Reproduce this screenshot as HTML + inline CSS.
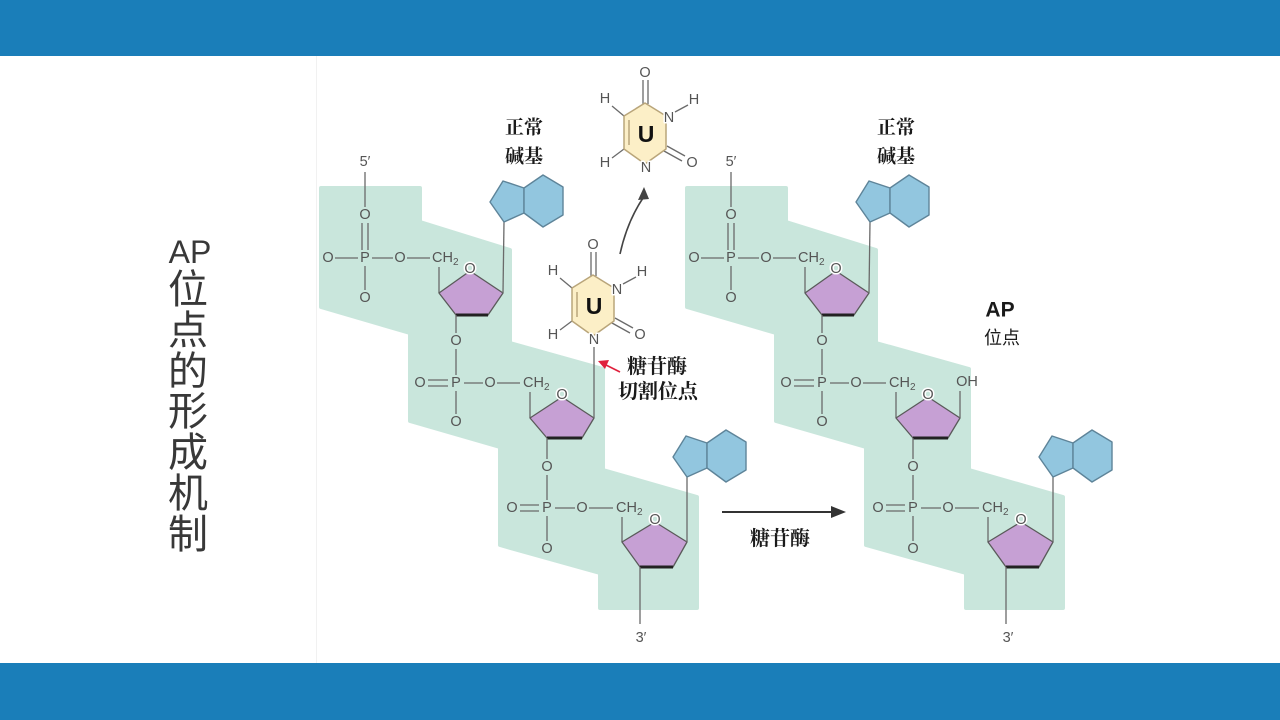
<!DOCTYPE html>
<html><head><meta charset="utf-8"><style>
html,body{margin:0;padding:0;background:#fff;}
svg{display:block;}
.band{fill:#c9e6dc;stroke:#c9e6dc;stroke-width:4;stroke-linejoin:round;}
.b{stroke:#6a6a6a;stroke-width:1.3;fill:none;}
.rb{stroke:#b9a57a;stroke-width:1.5;fill:none;}
.t{font-family:"Liberation Sans",sans-serif;font-size:14.5px;fill:#555;dominant-baseline:central;text-anchor:middle;}
.ts{font-family:"Liberation Sans",sans-serif;font-size:14.5px;fill:#555;dominant-baseline:central;}
.sub{font-size:10px;}
.halo{paint-order:stroke;stroke:#fff;stroke-width:3px;stroke-linejoin:round;}
.sug{fill:#c6a0d4;stroke:#5a5a5a;stroke-width:1.3;stroke-linejoin:round;}
.thick{stroke:#222;stroke-width:3;}
.base{fill:#92c6df;stroke:#5e8499;stroke-width:1.4;stroke-linejoin:round;}
.ring{fill:#fcefc7;stroke:#b9a57a;stroke-width:1.5;stroke-linejoin:round;}
.U{font-family:"Liberation Sans",sans-serif;font-weight:bold;font-size:23px;fill:#111;dominant-baseline:central;text-anchor:middle;}
.cn{font-family:"Liberation Serif","Noto Serif CJK SC",serif;font-weight:bold;font-size:19px;fill:#1a1a1a;dominant-baseline:central;text-anchor:middle;}
.cn2{font-family:"Liberation Serif","Noto Serif CJK SC",serif;font-weight:bold;font-size:20px;fill:#1a1a1a;dominant-baseline:central;text-anchor:middle;}
.title{font-family:"Liberation Sans","Noto Sans CJK SC",sans-serif;font-size:40px;fill:#383838;dominant-baseline:central;text-anchor:middle;}
</style></head><body>
<svg width="1280" height="720" viewBox="0 0 1280 720" xmlns="http://www.w3.org/2000/svg">
<rect x="0" y="0" width="1280" height="720" fill="#fff"/>
<rect x="0" y="0" width="1280" height="56" fill="#1a7eb9"/>
<rect x="0" y="663" width="1280" height="57" fill="#1a7eb9"/>
<line x1="316.5" y1="56" x2="316.5" y2="663" stroke="#f1f1f1" stroke-width="1"/>

<!-- Title -->
<text x="190" y="252" class="title" style="font-size:32px">AP</text>
<text x="188" y="290" class="title">位</text>
<text x="188" y="331" class="title">点</text>
<text x="188" y="372" class="title">的</text>
<text x="188" y="412" class="title">形</text>
<text x="188" y="453" class="title">成</text>
<text x="188" y="494" class="title">机</text>
<text x="188" y="535" class="title">制</text>

<!-- ========== LEFT DIAGRAM ========== -->
<polygon class="band" points="321,188 420,188 420,222 510,250 510,343 603,369 603,470 697,497 697,608 600,608 600,573 500,545 500,447 410,421 410,333 321,307"/>

<!-- phosphate 1 -->
<text x="365" y="162" class="t">5′</text>
<line class="b" x1="365" y1="172" x2="365" y2="207"/>
<text x="365" y="215" class="t">O</text>
<line class="b" x1="362" y1="223" x2="362" y2="250"/>
<line class="b" x1="368" y1="223" x2="368" y2="250"/>
<text x="365" y="258" class="t">P</text>
<text x="328" y="258" class="t">O</text>
<line class="b" x1="335" y1="258" x2="358" y2="258"/>
<line class="b" x1="372" y1="258" x2="393" y2="258"/>
<text x="400" y="258" class="t">O</text>
<line class="b" x1="407" y1="258" x2="430" y2="258"/>
<text x="432" y="258" class="ts">CH<tspan class="sub" dy="4">2</tspan></text>
<line class="b" x1="365" y1="266" x2="365" y2="290"/>
<text x="365" y="298" class="t">O</text>
<line class="b" x1="439" y1="267" x2="439" y2="293"/>

<!-- sugar 1 -->
<polygon class="sug" points="470,271 503,293 488,315 456,315 439,293"/>
<line class="thick" x1="456" y1="315" x2="488" y2="315"/>
<text x="470" y="269" class="t halo">O</text>
<line class="b" x1="503" y1="293" x2="504" y2="222"/>
<polygon class="base" points="504,222 490,202 503,181 524,188 524,213"/>
<polygon class="base" points="524,188 543,175 563,187 563,215 543,227 524,213"/>
<text x="524" y="128" class="cn">正常</text>
<text x="524" y="157" class="cn">碱基</text>

<!-- phosphate 2 -->
<line class="b" x1="456" y1="315" x2="456" y2="333"/>
<text x="456" y="341" class="t">O</text>
<line class="b" x1="456" y1="349" x2="456" y2="375"/>
<text x="456" y="383" class="t">P</text>
<text x="420" y="383" class="t">O</text>
<line class="b" x1="428" y1="380" x2="448" y2="380"/>
<line class="b" x1="428" y1="386" x2="448" y2="386"/>
<line class="b" x1="464" y1="383" x2="483" y2="383"/>
<text x="490" y="383" class="t">O</text>
<line class="b" x1="497" y1="383" x2="520" y2="383"/>
<text x="523" y="383" class="ts">CH<tspan class="sub" dy="4">2</tspan></text>
<line class="b" x1="456" y1="391" x2="456" y2="414"/>
<text x="456" y="422" class="t">O</text>
<line class="b" x1="530" y1="392" x2="530" y2="418"/>

<!-- sugar 2 -->
<polygon class="sug" points="562,397 594,418 582,438 547,438 530,418"/>
<line class="thick" x1="547" y1="438" x2="582" y2="438"/>
<text x="562" y="395" class="t halo">O</text>
<line class="b" x1="594" y1="347" x2="594" y2="418"/>

<!-- phosphate 3 -->
<line class="b" x1="547" y1="438" x2="547" y2="459"/>
<text x="547" y="467" class="t">O</text>
<line class="b" x1="547" y1="475" x2="547" y2="500"/>
<text x="547" y="508" class="t">P</text>
<text x="512" y="508" class="t">O</text>
<line class="b" x1="520" y1="505" x2="539" y2="505"/>
<line class="b" x1="520" y1="511" x2="539" y2="511"/>
<line class="b" x1="555" y1="508" x2="575" y2="508"/>
<text x="582" y="508" class="t">O</text>
<line class="b" x1="589" y1="508" x2="613" y2="508"/>
<text x="616" y="508" class="ts">CH<tspan class="sub" dy="4">2</tspan></text>
<line class="b" x1="547" y1="516" x2="547" y2="541"/>
<text x="547" y="549" class="t">O</text>
<line class="b" x1="622" y1="517" x2="622" y2="542"/>

<!-- sugar 3 -->
<polygon class="sug" points="655,522 687,542 673,567 640,567 622,542"/>
<line class="thick" x1="640" y1="567" x2="673" y2="567"/>
<text x="655" y="520" class="t halo">O</text>
<line class="b" x1="640" y1="567" x2="640" y2="624"/>
<text x="641" y="638" class="t">3′</text>
<line class="b" x1="687" y1="542" x2="687" y2="477"/>
<polygon class="base" points="687,477 673,457 686,436 707,443 707,468"/>
<polygon class="base" points="707,443 726,430 746,442 746,470 726,482 707,468"/>

<!-- attached U -->
<line class="b" x1="591" y1="252" x2="591" y2="276"/>
<line class="b" x1="596" y1="252" x2="596" y2="276"/>
<text x="593" y="245" class="t">O</text>
<line class="b" x1="572" y1="288" x2="560" y2="278"/>
<text x="553" y="271" class="t">H</text>
<line class="b" x1="572" y1="321" x2="560" y2="330"/>
<text x="553" y="335" class="t">H</text>
<line class="b" x1="623" y1="284" x2="636" y2="277"/>
<text x="642" y="272" class="t">H</text>
<line class="b" x1="615" y1="318" x2="633" y2="328"/>
<line class="b" x1="612" y1="323" x2="630" y2="333"/>
<text x="640" y="335" class="t">O</text>
<polygon class="ring" points="593,275 614,288 614,321 593,336 572,321 572,288"/>
<line class="rb" x1="577" y1="292" x2="577" y2="317"/>
<text x="617" y="290" class="t halo">N</text>
<text x="594" y="340" class="t halo">N</text>
<text x="594" y="306" class="U">U</text>

<!-- free U -->
<line class="b" x1="643" y1="80" x2="643" y2="104"/>
<line class="b" x1="648" y1="80" x2="648" y2="104"/>
<text x="645" y="73" class="t">O</text>
<line class="b" x1="624" y1="116" x2="612" y2="106"/>
<text x="605" y="99" class="t">H</text>
<line class="b" x1="624" y1="149" x2="612" y2="158"/>
<text x="605" y="163" class="t">H</text>
<line class="b" x1="675" y1="112" x2="688" y2="105"/>
<text x="694" y="100" class="t">H</text>
<line class="b" x1="667" y1="146" x2="685" y2="156"/>
<line class="b" x1="664" y1="151" x2="682" y2="161"/>
<text x="692" y="163" class="t">O</text>
<polygon class="ring" points="645,103 666,116 666,149 645,164 624,149 624,116"/>
<line class="rb" x1="629" y1="120" x2="629" y2="145"/>
<text x="669" y="118" class="t halo">N</text>
<text x="646" y="168" class="t halo">N</text>
<text x="646" y="134" class="U">U</text>

<!-- curved arrow -->
<path d="M620,254 Q627,222 643,198" stroke="#444" stroke-width="1.6" fill="none"/>
<polygon points="644,187 638,200 649,199" fill="#444"/>

<!-- red arrow -->
<line x1="620" y1="372" x2="606" y2="365" stroke="#e0203c" stroke-width="1.6"/>
<polygon points="598,361 609,360 605,369" fill="#e0203c"/>
<text x="657" y="367" class="cn2">糖苷酶</text>
<text x="658" y="392" class="cn2">切割位点</text>

<!-- middle arrow -->
<line x1="722" y1="512" x2="834" y2="512" stroke="#333" stroke-width="2"/>
<polygon points="846,512 831,506 831,518" fill="#333"/>
<text x="780" y="539" class="cn2">糖苷酶</text>

<!-- ========== RIGHT DIAGRAM ========== -->
<polygon class="band" points="687,188 786,188 786,222 876,250 876,343 969,369 969,470 1063,497 1063,608 966,608 966,573 866,545 866,447 776,421 776,333 687,307"/>

<!-- phosphate 1 -->
<text x="731" y="162" class="t">5′</text>
<line class="b" x1="731" y1="172" x2="731" y2="207"/>
<text x="731" y="215" class="t">O</text>
<line class="b" x1="728" y1="223" x2="728" y2="250"/>
<line class="b" x1="734" y1="223" x2="734" y2="250"/>
<text x="731" y="258" class="t">P</text>
<text x="694" y="258" class="t">O</text>
<line class="b" x1="701" y1="258" x2="724" y2="258"/>
<line class="b" x1="738" y1="258" x2="759" y2="258"/>
<text x="766" y="258" class="t">O</text>
<line class="b" x1="773" y1="258" x2="796" y2="258"/>
<text x="798" y="258" class="ts">CH<tspan class="sub" dy="4">2</tspan></text>
<line class="b" x1="731" y1="266" x2="731" y2="290"/>
<text x="731" y="298" class="t">O</text>
<line class="b" x1="805" y1="267" x2="805" y2="293"/>

<!-- sugar 1 -->
<polygon class="sug" points="836,271 869,293 854,315 822,315 805,293"/>
<line class="thick" x1="822" y1="315" x2="854" y2="315"/>
<text x="836" y="269" class="t halo">O</text>
<line class="b" x1="869" y1="293" x2="870" y2="222"/>
<polygon class="base" points="870,222 856,202 869,181 890,188 890,213"/>
<polygon class="base" points="890,188 909,175 929,187 929,215 909,227 890,213"/>
<text x="896" y="128" class="cn">正常</text>
<text x="896" y="157" class="cn">碱基</text>

<!-- phosphate 2 -->
<line class="b" x1="822" y1="315" x2="822" y2="333"/>
<text x="822" y="341" class="t">O</text>
<line class="b" x1="822" y1="349" x2="822" y2="375"/>
<text x="822" y="383" class="t">P</text>
<text x="786" y="383" class="t">O</text>
<line class="b" x1="794" y1="380" x2="814" y2="380"/>
<line class="b" x1="794" y1="386" x2="814" y2="386"/>
<line class="b" x1="830" y1="383" x2="849" y2="383"/>
<text x="856" y="383" class="t">O</text>
<line class="b" x1="863" y1="383" x2="886" y2="383"/>
<text x="889" y="383" class="ts">CH<tspan class="sub" dy="4">2</tspan></text>
<line class="b" x1="822" y1="391" x2="822" y2="414"/>
<text x="822" y="422" class="t">O</text>
<line class="b" x1="896" y1="392" x2="896" y2="418"/>

<!-- sugar 2 (AP site) -->
<polygon class="sug" points="928,397 960,418 948,438 913,438 896,418"/>
<line class="thick" x1="913" y1="438" x2="948" y2="438"/>
<text x="928" y="395" class="t halo">O</text>
<line class="b" x1="960" y1="418" x2="960" y2="391"/>
<text x="967" y="382" class="t">OH</text>
<text x="1000" y="310" style="font-family:'Liberation Sans',sans-serif;font-weight:bold;font-size:21px;fill:#1a1a1a;dominant-baseline:central;text-anchor:middle;">AP</text>
<text x="1002" y="338" style="font-family:'Liberation Sans','Noto Sans CJK SC',sans-serif;font-size:18px;fill:#1a1a1a;dominant-baseline:central;text-anchor:middle;">位点</text>

<!-- phosphate 3 -->
<line class="b" x1="913" y1="438" x2="913" y2="459"/>
<text x="913" y="467" class="t">O</text>
<line class="b" x1="913" y1="475" x2="913" y2="500"/>
<text x="913" y="508" class="t">P</text>
<text x="878" y="508" class="t">O</text>
<line class="b" x1="886" y1="505" x2="905" y2="505"/>
<line class="b" x1="886" y1="511" x2="905" y2="511"/>
<line class="b" x1="921" y1="508" x2="941" y2="508"/>
<text x="948" y="508" class="t">O</text>
<line class="b" x1="955" y1="508" x2="979" y2="508"/>
<text x="982" y="508" class="ts">CH<tspan class="sub" dy="4">2</tspan></text>
<line class="b" x1="913" y1="516" x2="913" y2="541"/>
<text x="913" y="549" class="t">O</text>
<line class="b" x1="988" y1="517" x2="988" y2="542"/>

<!-- sugar 3 -->
<polygon class="sug" points="1021,522 1053,542 1039,567 1006,567 988,542"/>
<line class="thick" x1="1006" y1="567" x2="1039" y2="567"/>
<text x="1021" y="520" class="t halo">O</text>
<line class="b" x1="1006" y1="567" x2="1006" y2="624"/>
<text x="1008" y="638" class="t">3′</text>
<line class="b" x1="1053" y1="542" x2="1053" y2="477"/>
<polygon class="base" points="1053,477 1039,457 1052,436 1073,443 1073,468"/>
<polygon class="base" points="1073,443 1092,430 1112,442 1112,470 1092,482 1073,468"/>
</svg>
</body></html>
